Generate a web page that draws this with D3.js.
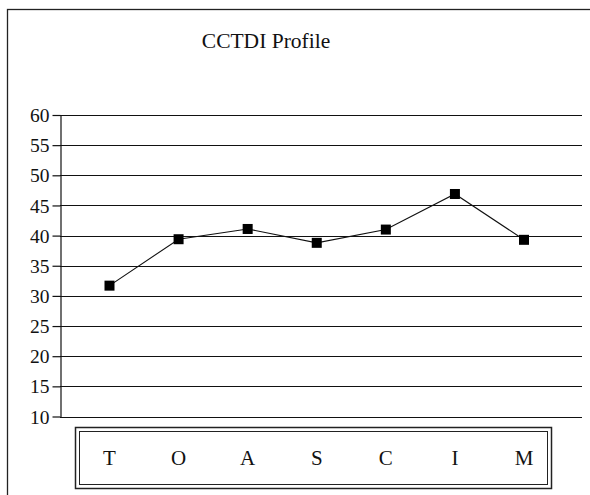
<!DOCTYPE html>
<html>
<head>
<meta charset="utf-8">
<script src="https://cdn.jsdelivr.net/npm/d3@7/dist/d3.min.js"></script>
<style>
  body { margin: 0; background: #fff; }
</style>
</head>
<body>
<div id="chart"></div>
<script>
var title = "CCTDI Profile"
var scales = ["T", "O", "A", "S", "C", "I", "M"]
var scores = [31.7, 39.4, 41.1, 38.8, 41.0, 46.9, 39.3]
var yTicks = [10, 15, 20, 25, 30, 35, 40, 45, 50, 55, 60]

var width = 590, height = 495

var svg = d3.select("#chart").append("svg")
    .attr("width", width)
    .attr("height", height)

// outer frame of the page
svg.append("rect")
    .attr("x", 7.5)
    .attr("y", 9.5)
    .attr("width", 600)
    .attr("height", 500)
    .attr("fill", "none")
    .attr("stroke", "#222")
    .attr("stroke-width", 1.3)

svg.append("text")
    .attr("x", 266)
    .attr("y", 48)
    .attr("text-anchor", "middle")
    .attr("font-family", "Liberation Serif")
    .attr("font-size", 21.5)
    .attr("fill", "#111")
    .text(title)

var y = d3.scaleLinear()
    .domain([10, 60])
    .range([416.5, 115])

var x = d3.scalePoint()
    .domain(scales)
    .range([109.5, 524])

// y axis
var yAxis = svg.append("g")
    .attr("transform", "translate(60.5,0)")
    .call(d3.axisLeft(y).tickValues(yTicks).tickSizeInner(8).tickSizeOuter(0).tickPadding(3))

yAxis.attr("font-family", "Liberation Serif").attr("font-size", 19.5)
yAxis.select(".domain").attr("stroke", "#111").attr("stroke-width", 1.2)
yAxis.selectAll(".tick line").attr("stroke", "#111").attr("stroke-width", 1.2)
yAxis.selectAll(".tick text")
    .attr("fill", "#111")
    .attr("dy", "0.34em")

// gridlines
svg.append("g")
    .selectAll("line")
    .data(yTicks)
    .enter().append("line")
    .attr("x1", 60)
    .attr("x2", 582)
    .attr("y1", function(d) { return Math.round(y(d)) + 0.5 })
    .attr("y2", function(d) { return Math.round(y(d)) + 0.5 })
    .attr("stroke", "#111")
    .attr("stroke-width", 1.2)

// category box below the plot (double border)
svg.append("rect")
    .attr("x", 75.5).attr("y", 427.5)
    .attr("width", 476).attr("height", 61)
    .attr("fill", "none").attr("stroke", "#222").attr("stroke-width", 1.5)
svg.append("rect")
    .attr("x", 79.5).attr("y", 431.5)
    .attr("width", 468).attr("height", 53)
    .attr("fill", "none").attr("stroke", "#222").attr("stroke-width", 1)

svg.selectAll(".cat")
    .data(scales)
    .enter().append("text")
    .attr("class", "cat")
    .attr("x", function(d) { return x(d) })
    .attr("y", 465)
    .attr("text-anchor", "middle")
    .attr("font-family", "Liberation Serif")
    .attr("font-size", 21)
    .attr("fill", "#111")
    .text(function(d) { return d })

// the profile line
var data = scales.map(function(s, i) { return {scale: s, score: scores[i]} })

var line = d3.line()
    .x(function(d) { return x(d.scale) })
    .y(function(d) { return y(d.score) })

svg.append("path")
    .datum(data)
    .attr("d", line)
    .attr("fill", "none")
    .attr("stroke", "#111")
    .attr("stroke-width", 1.1)

svg.selectAll(".pt")
    .data(data)
    .enter().append("rect")
    .attr("class", "pt")
    .attr("x", function(d) { return x(d.scale) - 5 })
    .attr("y", function(d) { return y(d.score) - 5 })
    .attr("width", 10)
    .attr("height", 10)
    .attr("fill", "#000")
</script>
</body>
</html>
